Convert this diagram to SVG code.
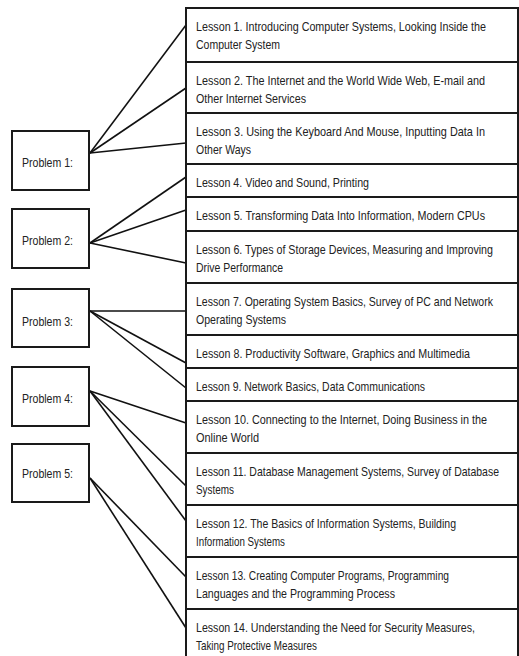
<svg xmlns="http://www.w3.org/2000/svg" width="519" height="656" viewBox="0 0 519 656">
<style>
.box{fill:#fff;stroke:#1a1a1a;stroke-width:2}
.t{font-family:"Liberation Sans Narrow","Liberation Sans",Arial,sans-serif;font-size:13px;fill:#222}
.c{stroke:#111;stroke-width:1.6;fill:none}
</style>
<rect width="519" height="656" fill="#fff"/>
<g id="connectors">
<line class="c" x1="90" y1="153" x2="186" y2="25"/>
<line class="c" x1="90" y1="153" x2="186" y2="88"/>
<line class="c" x1="90" y1="153" x2="186" y2="143"/>
<line class="c" x1="90" y1="243" x2="186" y2="177"/>
<line class="c" x1="90" y1="243" x2="186" y2="210"/>
<line class="c" x1="90" y1="243" x2="186" y2="263"/>
<line class="c" x1="90" y1="311" x2="186" y2="311"/>
<line class="c" x1="90" y1="311" x2="186" y2="363"/>
<line class="c" x1="90" y1="311" x2="186" y2="388"/>
<line class="c" x1="90" y1="391" x2="186" y2="423"/>
<line class="c" x1="90" y1="391" x2="186" y2="486"/>
<line class="c" x1="90" y1="391" x2="186" y2="521"/>
<line class="c" x1="90" y1="478" x2="186" y2="577"/>
<line class="c" x1="90" y1="478" x2="186" y2="628"/>
</g>
<g id="problem1"><rect class="box" x="12" y="131" width="77" height="59"/><text class="t" x="22" y="167" textLength="51" lengthAdjust="spacingAndGlyphs">Problem 1:</text></g>
<g id="problem2"><rect class="box" x="12" y="209" width="77" height="59"/><text class="t" x="22" y="245" textLength="51" lengthAdjust="spacingAndGlyphs">Problem 2:</text></g>
<g id="problem3"><rect class="box" x="12" y="289" width="77" height="58"/><text class="t" x="22" y="326" textLength="51" lengthAdjust="spacingAndGlyphs">Problem 3:</text></g>
<g id="problem4"><rect class="box" x="12" y="367" width="77" height="59"/><text class="t" x="22" y="403" textLength="51" lengthAdjust="spacingAndGlyphs">Problem 4:</text></g>
<g id="problem5"><rect class="box" x="12" y="444" width="77" height="58"/><text class="t" x="22" y="478" textLength="51" lengthAdjust="spacingAndGlyphs">Problem 5:</text></g>

<g id="lesson1"><rect class="box" x="186" y="8" width="332" height="54"/>
<text class="t" x="196" y="30.5" textLength="290" lengthAdjust="spacingAndGlyphs">Lesson 1. Introducing Computer Systems, Looking Inside the</text>
<text class="t" x="196" y="49" textLength="84" lengthAdjust="spacingAndGlyphs">Computer System</text></g>
<g id="lesson2"><rect class="box" x="186" y="62" width="332" height="51"/>
<text class="t" x="196" y="84.5" textLength="289" lengthAdjust="spacingAndGlyphs">Lesson 2. The Internet and the World Wide Web, E-mail and</text>
<text class="t" x="196" y="103" textLength="110" lengthAdjust="spacingAndGlyphs">Other Internet Services</text></g>
<g id="lesson3"><rect class="box" x="186" y="113" width="332" height="51"/>
<text class="t" x="196" y="135.5" textLength="289" lengthAdjust="spacingAndGlyphs">Lesson 3. Using the Keyboard And Mouse, Inputting Data In</text>
<text class="t" x="196" y="154" textLength="55" lengthAdjust="spacingAndGlyphs">Other Ways</text></g>
<g id="lesson4"><rect class="box" x="186" y="164" width="332" height="33"/>
<text class="t" x="196" y="186.5" textLength="173" lengthAdjust="spacingAndGlyphs">Lesson 4. Video and Sound, Printing</text></g>
<g id="lesson5"><rect class="box" x="186" y="197" width="332" height="34"/>
<text class="t" x="196" y="219.5" textLength="289" lengthAdjust="spacingAndGlyphs">Lesson 5. Transforming Data Into Information, Modern CPUs</text></g>
<g id="lesson6"><rect class="box" x="186" y="231" width="332" height="52"/>
<text class="t" x="196" y="253.5" textLength="297" lengthAdjust="spacingAndGlyphs">Lesson 6. Types of Storage Devices, Measuring and Improving</text>
<text class="t" x="196" y="272" textLength="87" lengthAdjust="spacingAndGlyphs">Drive Performance</text></g>
<g id="lesson7"><rect class="box" x="186" y="283" width="332" height="52"/>
<text class="t" x="196" y="305.5" textLength="297" lengthAdjust="spacingAndGlyphs">Lesson 7. Operating System Basics, Survey of PC and Network</text>
<text class="t" x="196" y="324" textLength="90" lengthAdjust="spacingAndGlyphs">Operating Systems</text></g>
<g id="lesson8"><rect class="box" x="186" y="335" width="332" height="33"/>
<text class="t" x="196" y="357.5" textLength="274" lengthAdjust="spacingAndGlyphs">Lesson 8. Productivity Software, Graphics and Multimedia</text></g>
<g id="lesson9"><rect class="box" x="186" y="368" width="332" height="33"/>
<text class="t" x="196" y="390.5" textLength="229" lengthAdjust="spacingAndGlyphs">Lesson 9. Network Basics, Data Communications</text></g>
<g id="lesson10"><rect class="box" x="186" y="401" width="332" height="52"/>
<text class="t" x="196" y="423.5" textLength="291" lengthAdjust="spacingAndGlyphs">Lesson 10. Connecting to the Internet, Doing Business in the</text>
<text class="t" x="196" y="442" textLength="63" lengthAdjust="spacingAndGlyphs">Online World</text></g>
<g id="lesson11"><rect class="box" x="186" y="453" width="332" height="52"/>
<text class="t" x="196" y="475.5" textLength="303" lengthAdjust="spacingAndGlyphs">Lesson 11. Database Management Systems, Survey of Database</text>
<text class="t" x="196" y="494" textLength="38" lengthAdjust="spacingAndGlyphs">Systems</text></g>
<g id="lesson12"><rect class="box" x="186" y="505" width="332" height="52"/>
<text class="t" x="196" y="527.5" textLength="260" lengthAdjust="spacingAndGlyphs">Lesson 12. The Basics of Information Systems, Building</text>
<text class="t" x="196" y="546" textLength="89" lengthAdjust="spacingAndGlyphs">Information Systems</text></g>
<g id="lesson13"><rect class="box" x="186" y="557" width="332" height="52"/>
<text class="t" x="196" y="579.5" textLength="253" lengthAdjust="spacingAndGlyphs">Lesson 13. Creating Computer Programs, Programming</text>
<text class="t" x="196" y="598" textLength="199" lengthAdjust="spacingAndGlyphs">Languages and the Programming Process</text></g>
<g id="lesson14"><rect class="box" x="186" y="609" width="332" height="60"/>
<text class="t" x="196" y="631.5" textLength="279" lengthAdjust="spacingAndGlyphs">Lesson 14. Understanding the Need for Security Measures,</text>
<text class="t" x="196" y="650" textLength="121" lengthAdjust="spacingAndGlyphs">Taking Protective Measures</text></g>
</svg>
